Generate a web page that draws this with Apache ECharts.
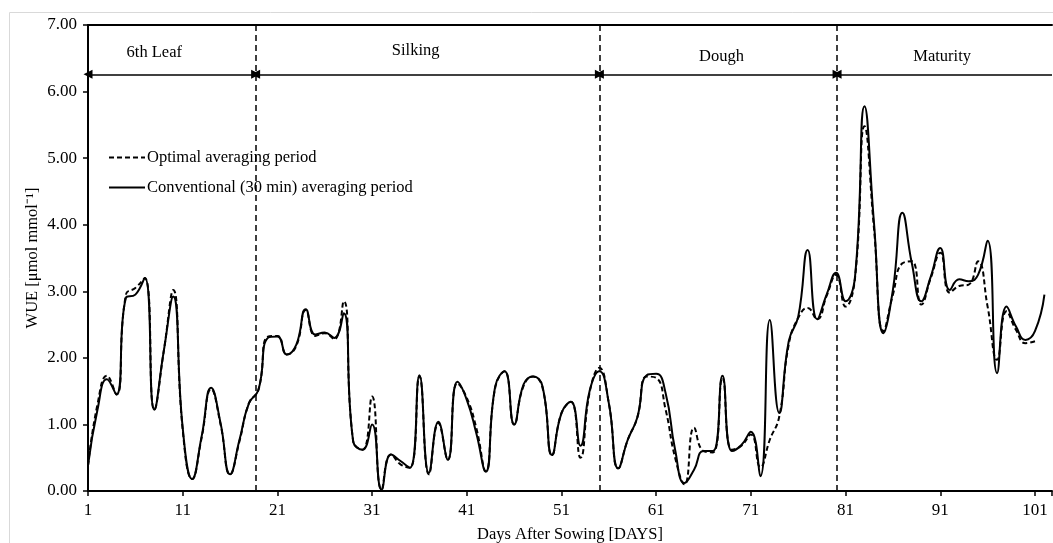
<!DOCTYPE html>
<html>
<head>
<meta charset="utf-8">
<script src="https://cdn.jsdelivr.net/npm/echarts@6/dist/echarts.min.js"></script>
<style>
  html, body { margin: 0; padding: 0; background: #fff; }
  #chart { width: 1053px; height: 543px; }
</style>
</head>
<body>
<div id="chart"></div>
<script>
// WUE per day after sowing
var conventional = [
  0.38, 1.22, 1.68, 1.45, 2.90, 2.95, 3.20, 1.22, 2.10, 2.92,
  0.95, 0.18, 0.82, 1.55, 1.02, 0.25, 0.77, 1.32, 1.52, 2.30,
  2.32, 2.05, 2.20, 2.73, 2.35, 2.38, 2.30, 2.67, 0.75, 0.62,
  1.00, 0.02, 0.55, 0.45, 0.35, 1.74, 0.27, 1.04, 0.47, 1.64,
  1.37, 0.87, 0.29, 1.57, 1.80, 1.00, 1.60, 1.72, 1.57, 0.54,
  1.17, 1.34, 0.68, 1.52, 1.80, 1.32, 0.34, 0.77, 1.10, 1.74,
  1.76, 1.47, 0.62, 0.12, 0.32, 0.60, 0.60, 1.73, 0.60, 0.69,
  0.89, 0.22, 2.57, 1.17, 2.25, 2.62, 3.62, 2.58, 2.95, 3.28,
  2.85, 3.22, 5.78, 4.03, 2.37, 3.02, 4.18, 3.42, 2.85, 3.22,
  3.65, 3.02, 3.18, 3.15, 3.25, 3.76, 1.77, 2.77, 2.47, 2.27,
  2.40, 2.95
];
var optimal = [
  0.38, 1.30, 1.73, 1.45, 2.95, 3.05, 3.20, 1.22, 2.10, 3.02,
  0.92, 0.18, 0.80, 1.53, 1.00, 0.25, 0.75, 1.32, 1.52, 2.32,
  2.33, 2.05, 2.18, 2.72, 2.33, 2.37, 2.28, 2.85, 0.75, 0.62,
  1.42, 0.02, 0.55, 0.40, 0.35, 1.72, 0.25, 1.02, 0.47, 1.62,
  1.40, 0.95, 0.30, 1.55, 1.80, 1.00, 1.58, 1.72, 1.55, 0.54,
  1.17, 1.34, 0.50, 1.50, 1.85, 1.32, 0.34, 0.77, 1.10, 1.72,
  1.70, 1.22, 0.50, 0.10, 0.95, 0.60, 0.58, 1.70, 0.62, 0.68,
  0.85, 0.36, 0.77, 1.12, 2.20, 2.60, 2.75, 2.58, 2.93, 3.25,
  2.77, 3.20, 5.48, 3.95, 2.40, 2.95, 3.42, 3.45, 2.80, 3.20,
  3.58, 2.98, 3.08, 3.10, 3.45, 2.77, 1.97, 2.70, 2.42, 2.22,
  2.25
];
// growth stages: boundaries (days) and label positions
var stageNames = ['6th Leaf', 'Silking', 'Dough', 'Maturity'];
var stageBounds = [1, 18.7, 55, 80.1, 102.8];
var stageLabelDay = [8.0, 35.6, 67.9, 91.2];
var stageLabelValue = [6.59, 6.62, 6.53, 6.53];
var arrowValue = 6.26;

var days = conventional.map(function (v, i) { return i + 1; });
var font = '"Liberation Serif", "Times New Roman", serif';

var chart = echarts.init(document.getElementById('chart'));

var arrows = [];
for (var i = 0; i < stageNames.length; i++) {
  var last = i == stageNames.length - 1;
  arrows.push([
    { coord: [stageBounds[i], arrowValue], symbol: 'triangle' },
    { coord: [stageBounds[i + 1], arrowValue], symbol: last ? 'none' : 'triangle' }
  ]);
}
var stageLabels = stageNames.map(function (n, i) {
  return { name: n, coord: [stageLabelDay[i], stageLabelValue[i]] };
});
var dividers = stageBounds.slice(1, 4).map(function (d) { return { xAxis: d }; });

var option = {
  animation: false,
  textStyle: { fontFamily: font },
  graphic: [{
    type: 'rect',
    shape: { x: 9.5, y: 12.5, width: 1200, height: 700 },
    style: { fill: 'none', stroke: '#d9d9d9', lineWidth: 1 },
    silent: true
  }],
  grid: { left: 88, right: 1, top: 25, bottom: 52, outerBoundsMode: 'none' },
  legend: {
    orient: 'vertical',
    left: 103,
    top: 144,
    itemWidth: 36,
    itemHeight: 17,
    itemGap: 13,
    data: ['Optimal averaging period', 'Conventional (30 min) averaging period'],
    itemStyle: { color: 'rgba(0,0,0,0)', borderColor: 'rgba(0,0,0,0)', borderWidth: 0 },
    textStyle: { fontFamily: font, fontSize: 16.5, color: '#000', padding: [0, 0, 0, -3] }
  },
  xAxis: [{
    type: 'value',
    min: 1,
    max: 102.8,
    interval: 10,
    name: 'Days After Sowing [DAYS]',
    nameLocation: 'middle',
    nameGap: 35,
    nameMoveOverlap: false,
    nameTextStyle: { fontFamily: font, fontSize: 16.5, color: '#000' },
    axisLine: { lineStyle: { color: '#000', width: 2 } },
    axisTick: { length: 5, lineStyle: { color: '#000', width: 1.5 } },
    axisLabel: {
      fontFamily: font, fontSize: 17, color: '#000', margin: 11,
      formatter: function (v) { return (v - 1) % 10 == 0 ? String(v) : ''; }
    },
    splitLine: { show: false }
  }, {
    type: 'value',
    position: 'top',
    min: 1,
    max: 102.8,
    axisLine: { lineStyle: { color: '#000', width: 2 } },
    axisTick: { show: false },
    axisLabel: { show: false },
    splitLine: { show: false }
  }],
  yAxis: {
    type: 'value',
    min: 0,
    max: 7,
    interval: 1,
    name: 'WUE [μmol mmol⁻¹]',
    nameLocation: 'middle',
    nameGap: 47,
    nameMoveOverlap: false,
    nameTextStyle: { fontFamily: font, fontSize: 16.5, color: '#000' },
    axisLine: { show: true, lineStyle: { color: '#000', width: 2 } },
    axisTick: { show: true, length: 5, lineStyle: { color: '#000', width: 1.5 } },
    axisLabel: {
      fontFamily: font, fontSize: 17, color: '#000', margin: 11,
      formatter: function (v) { return v.toFixed(2); }
    },
    splitLine: { show: false }
  },
  series: [{
    name: 'Optimal averaging period',
    type: 'line',
    data: optimal.map(function (v, i) { return [days[i], v]; }),
    smooth: true,
    symbol: 'none',
    lineStyle: { color: '#000', width: 2, type: [5, 3] },
    itemStyle: { color: '#000' },
    markLine: {
      silent: true,
      symbol: 'none',
      label: { show: false },
      lineStyle: { color: '#000', width: 1.5, type: [6, 4] },
      data: dividers
    }
  }, {
    name: 'Conventional (30 min) averaging period',
    type: 'line',
    data: conventional.map(function (v, i) { return [days[i], v]; }),
    smooth: true,
    symbol: 'none',
    lineStyle: { color: '#000', width: 2 },
    itemStyle: { color: '#000' },
    markLine: {
      silent: true,
      symbolSize: 9,
      label: { show: false },
      lineStyle: { color: '#000', width: 1.5, type: 'solid' },
      data: arrows
    },
    markPoint: {
      silent: true,
      symbol: 'circle',
      symbolSize: 0,
      label: {
        show: true, position: 'inside', formatter: '{b}',
        fontFamily: font, fontSize: 16.5, color: '#000'
      },
      data: stageLabels
    }
  }]
};

chart.setOption(option);
</script>
</body>
</html>
